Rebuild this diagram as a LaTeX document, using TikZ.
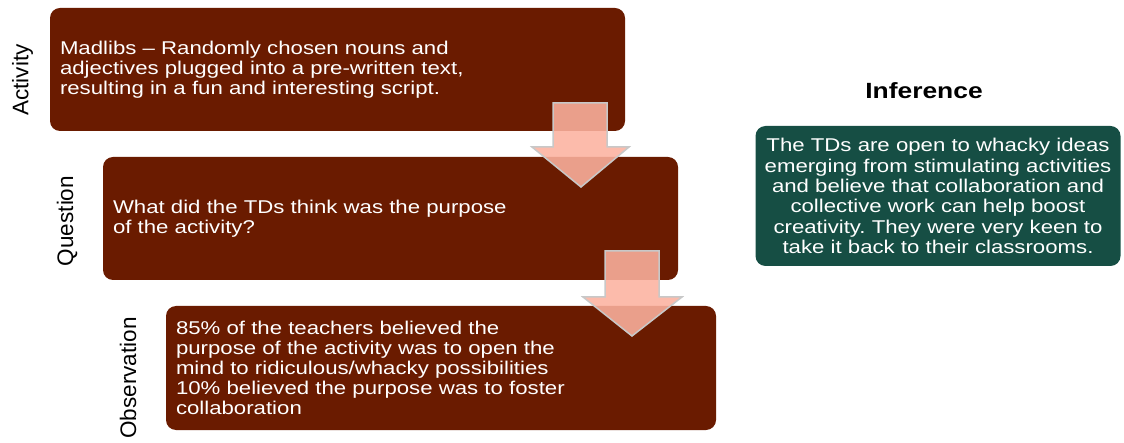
\documentclass[tikz,border=0pt]{standalone}
\usepackage{fontspec}
\setmainfont[FakeStretch=1.2]{Liberation Sans}
\newfontfamily\sidefont{Liberation Sans}
\frenchspacing

\newlength{\du}
\setlength{\du}{1pt}

\definecolor{stepbrown}{RGB}{106,27,0}
\definecolor{inferencegreen}{RGB}{22,78,68}
\definecolor{arrowsalmon}{RGB}{252,178,159}
\definecolor{arrowedge}{RGB}{200,200,200}

\tikzset{
  stepbox/.style={fill=stepbrown, rounded corners=10\du, inner xsep=10\du, inner ysep=0pt,
    text=white, align=left, font=\fontsize{18.5}{20}\selectfont, anchor=center},
  sidelabel/.style={rotate=90, inner sep=0pt, anchor=center, text=black,
    font=\sidefont\fontsize{22.5}{24}\selectfont},
  flowarrow/.style={fill=arrowsalmon, fill opacity=0.88, draw=arrowedge, line width=1.5\du,
    line join=miter},
}

\begin{document}
\begin{tikzpicture}
\pgftransformxscale{1.000000}
\pgftransformyscale{-1.000000}
\useasboundingbox (0\du,0\du) rectangle (1124\du,443\du);
% the three steps
\node[stepbox, text width=555\du, minimum height=123\du] (activity) at (337.5\du,69.5\du)
  {Madlibs -- Randomly chosen nouns and\\adjectives plugged into a pre-written text,\\resulting in a fun and interesting script.};
\node[stepbox, text width=555\du, minimum height=123\du] (question) at (390.5\du,218.5\du)
  {What did the TDs think was the purpose\\of the activity?};
\node[stepbox, text width=530\du, minimum height=124\du] (observation) at (441\du,368\du)
  {85\% of the teachers believed the\\purpose of the activity was to open the\\mind to ridiculous/whacky possibilities\\10\% believed the purpose was to foster\\collaboration};
% side labels
\node[sidelabel] (activitylabel) at (22.5\du,80\du) {Activity};
\node[sidelabel] (questionlabel) at (67\du,221\du) {Question};
\node[sidelabel] (observationlabel) at (128\du,378\du) {Observation};
% arrows between the steps
\draw[flowarrow] (553\du,103\du)--(607\du,103\du)--(607\du,147\du)--(629\du,147\du)--(581\du,187\du)--(532\du,147\du)--(553\du,147\du)--cycle;
\draw[flowarrow] (605\du,251\du)--(659\du,251\du)--(659\du,297\du)--(682\du,297\du)--(632\du,336\du)--(583\du,297\du)--(605\du,297\du)--cycle;
% inference
\node[font=\bfseries\fontsize{22}{24}\selectfont, inner sep=0pt] (inferencetitle) at (924\du,91\du) {Inference};
\node[fill=inferencegreen, rounded corners=10\du, text=white, align=center, text width=361\du,
  minimum height=140\du, inner xsep=2\du, inner ysep=0pt, font=\fontsize{18.5}{20.3}\selectfont]
  (inference) at (938\du,196\du)
  {The TDs are open to whacky ideas\\emerging from stimulating activities\\and believe that collaboration and\\collective work can help boost\\creativity. They were very keen to\\take it back to their classrooms.};
\end{tikzpicture}
\end{document}
